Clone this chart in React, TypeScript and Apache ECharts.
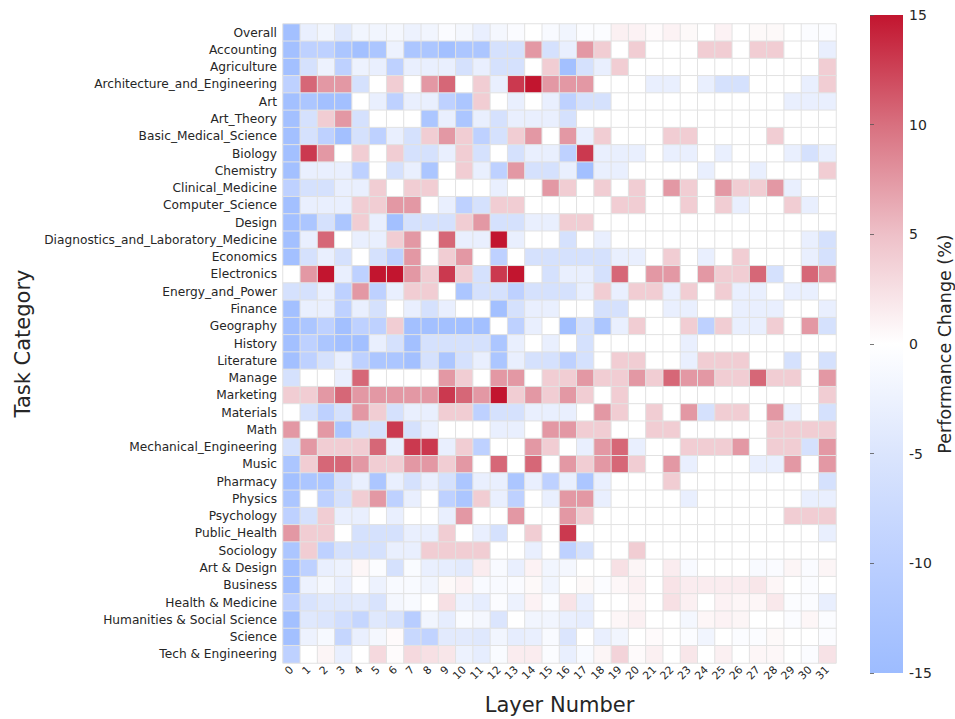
import React, { useEffect, useRef } from "react";
import * as echarts from "echarts";

const FONT = "DejaVu Sans";
const TEXT = "#262626";

const categories = [
  "Overall",
  "Accounting",
  "Agriculture",
  "Architecture_and_Engineering",
  "Art",
  "Art_Theory",
  "Basic_Medical_Science",
  "Biology",
  "Chemistry",
  "Clinical_Medicine",
  "Computer_Science",
  "Design",
  "Diagnostics_and_Laboratory_Medicine",
  "Economics",
  "Electronics",
  "Energy_and_Power",
  "Finance",
  "Geography",
  "History",
  "Literature",
  "Manage",
  "Marketing",
  "Materials",
  "Math",
  "Mechanical_Engineering",
  "Music",
  "Pharmacy",
  "Physics",
  "Psychology",
  "Public_Health",
  "Sociology",
  "Art & Design",
  "Business",
  "Health & Medicine",
  "Humanities & Social Science",
  "Science",
  "Tech & Engineering",
];

const layers = Array.from({ length: 32 }, (_, i) => String(i));

// Performance change (%) per category (rows) and layer (columns 0..31)
const performanceChange: number[][] = [
  [-14, -3, -2, -4.5, -2, -2, -1.5, -2.5, -2, -0.7, -1.5, -3, -1.5, -0.7, 0, -1, -2, -0.5, -0.5, 1.2, 1, 0.4, 1, 0.5, 0, 1, 0, 0.5, 0.5, 0, -0.5, -0.5],
  [-14, -9.5, -9.5, -12.5, -14, -12.5, -2.5, -12.5, -12.5, -14, -12.5, -12.5, -6, -6, 7.5, -6, -3, 7.5, 4, 0, 4, 0, 0, 0, 4, 4, 0, 4, 4, 0, 0, -3],
  [-14, -6, -2.5, -9.5, -2.5, -3, -9.5, -3, -3, -3, -6, -3, -6, -6, 0, 4, -14, -6, -3, 4, 0, 0, 0, 0, 0, 0, 0, 0, 0, 0, 0, 4],
  [-9.5, 10.5, 7.5, 7.5, -6, 0, 4, 0, 7.5, 10.5, 0, 4, -3, 13, 15, 7.5, 7.5, 7.5, 0, 0, 0, -3, -3, 0, -3, -6, -6, 0, 0, 0, -3, 4],
  [-14, -12.5, -14, -14, 0, -3, -9.5, -3, -3, -9.5, -12.5, 4, 0, -3, 0, -3, -9.5, -6, -6, 0, 0, 0, 0, 0, 0, 0, 0, 0, 0, -3, -3, -3],
  [-14, -6, 4, 7.5, -6, 0, 0, 0, -12.5, -3, -12.5, -3, -6, -3, -3, -3, -6, 0, 0, 0, 0, 0, 0, 0, 0, 0, 0, 0, 0, 0, 0, 0],
  [-14, -6, -9.5, -14, -6, -9.5, -3, -6, 4, 7.5, 4, -9.5, -6, 4, 7.5, 0, 7.5, -3, 4, 0, 0, 0, 4, 4, 0, 0, 0, 0, 4, 0, 0, 0],
  [-14, 13, 7.5, 0, 4, 0, 4, -6, -6, -3, 4, -6, 0, -6, -3, -3, -9.5, 13, -3, -3, -3, 0, -3, -3, 0, -3, 0, 0, 0, -3, -6, -3],
  [-14, -3, -3, -3, -9.5, 0, -6, -3, -12.5, 0, 4, -3, -9.5, 7.5, -6, -6, -3, -14, -3, -3, 0, 0, 0, 0, -3, 0, 0, -3, 0, 0, 0, 4],
  [-9.5, -6, -6, -3, -3, 4, 0, 4, 4, 0, 0, 0, -3, 0, 0, 7.5, 4, 0, 4, 0, 4, 0, 7.5, 4, 0, 7.5, 4, 4, 7.5, -3, 0, 0],
  [-14, -3, -3, -3, 4, 4, 7.5, 7.5, 0, -3, -9.5, -6, 4, 4, 0, 0, 0, 0, 0, 4, 4, 0, 0, 4, 0, 4, -3, 0, 0, 4, -3, 0],
  [-14, -12.5, -6, -12.5, 4, -3, -14, -6, -6, -6, 4, 7.5, -6, -6, -3, -3, 4, 4, 0, 0, 0, 0, 0, 0, 0, 0, 0, 0, 0, 0, 0, 0],
  [-14, -3, 10.5, 0, -3, -3, 4, 7.5, 0, 10.5, -3, -3, 15, -3, 0, 0, -6, 0, -3, 0, 0, 0, 0, 0, 0, 0, 0, 0, 0, 0, -3, -6],
  [-14, -6, -3, -6, 0, -6, -9.5, 7.5, 0, 4, 7.5, 0, -9.5, 0, -6, -6, -6, -6, -6, -3, -3, 0, 4, 0, -3, 0, 4, 0, 0, 0, -3, -6],
  [0, 7.5, 15, -3, -9.5, 15, 15, 7.5, 4, 13, 4, -6, 13, 15, 0, -6, -3, -3, -6, 10.5, 0, 7.5, 7.5, 0, 7.5, 4, 4, 10.5, -6, 0, 10.5, 7.5],
  [-6, -6, -3, -9.5, 7.5, -9.5, -3, 4, 4, 0, -12.5, -6, -6, -9.5, -6, -6, -6, -3, 4, -3, 4, 4, -3, 4, 0, 4, -3, -3, 0, -3, -3, 0],
  [-14, -3, -3, -9.5, -3, -6, 0, -3, -6, -3, 0, 0, -14, -6, -3, -3, 0, 0, -6, -6, 0, 0, -3, -3, 0, 0, -3, -3, -3, 0, 0, -3],
  [-14, -12.5, -9.5, -14, -9.5, -9.5, 4, -14, -14, -14, -14, -14, 0, -9.5, -3, 0, -14, -6, -12.5, -3, 4, 0, 0, 4, -9.5, 4, -3, -3, 4, 0, 7.5, -6],
  [-14, -9.5, -12.5, -14, -14, -3, -6, -14, -6, -6, -6, -6, -12.5, -3, 0, -3, 0, -6, 0, 0, 0, 0, 0, -3, 0, 0, 0, 0, 0, 0, 0, 0],
  [-14, -9.5, -6, -3, -9.5, -12.5, -12.5, -14, -6, -12.5, -6, -3, -12.5, -3, -6, -6, -9.5, -6, 0, 4, 4, 0, 0, -3, 4, 4, 4, 0, 0, -6, 0, -6],
  [-6, 0, 0, -3, 10.5, 0, 0, 0, 0, 7.5, 4, 0, 7.5, 7.5, 0, 4, 4, 7.5, 4, 4, 7.5, 4, 10.5, 7.5, 7.5, 4, 4, 10.5, 4, 4, 0, 7.5],
  [4, 4, 7.5, 10.5, 7.5, 7.5, 7.5, 7.5, 7.5, 13, 10.5, 7.5, 15, 4, 7.5, 4, 7.5, 4, 0, 4, 0, 0, 0, 0, 0, 0, 0, 0, 0, 0, 0, 4],
  [0, -6, -9.5, -6, 7.5, 4, -6, -3, -3, 4, 4, -9.5, -6, -6, -3, -3, -3, 0, 7.5, 4, 0, 4, 0, 7.5, -6, 4, 4, 0, 7.5, -3, 0, -6],
  [7.5, 0, 7.5, -12.5, -6, -6, 13, -6, -3, 0, 0, 0, -3, -3, 0, 7.5, 7.5, 4, 4, 0, 0, 4, 4, 0, 0, 0, 0, 0, 4, 4, 4, 4],
  [-6, 7.5, 4, 4, 4, 10.5, -3, 13, 13, -3, 4, -9.5, 0, 0, 7.5, 4, 0, -3, 7.5, 10.5, -3, 0, 0, 4, 4, 4, 7.5, 0, 4, 4, -6, 7.5],
  [-12.5, 4, 10.5, 10.5, 7.5, 4, 4, 7.5, 7.5, 4, 7.5, 0, 10.5, 0, 10.5, 0, 7.5, 4, 7.5, 10.5, 4, 0, 7.5, -3, 0, 0, 0, -3, -3, 7.5, 0, 7.5],
  [-14, -12.5, -12.5, -6, -3, -12.5, -3, -6, -3, -6, -12.5, -3, -3, -12.5, -3, -9.5, -3, -12.5, -3, 0, 0, 0, 4, 0, 0, 0, 0, 0, 0, 0, 0, -6],
  [-12.5, 0, -9.5, -6, 4, 7.5, -9.5, -3, 0, -9.5, -12.5, 4, -3, -9.5, 0, -3, 7.5, 7.5, -3, 0, 0, 0, 0, -3, 0, 0, 0, 0, 0, 0, -3, -3],
  [-9.5, -6, 4, -3, -3, 0, -3, 0, 0, -3, 7.5, 0, 0, 7.5, 0, 0, 7.5, 4, 0, 0, 0, 0, 0, 0, 0, 0, 0, 0, 0, 4, 4, 4],
  [7.5, 4, 4, 0, -6, -6, -6, -3, -3, 4, 0, -3, -6, 0, 4, 0, 13, 0, 0, 0, 0, 0, 0, 0, 0, 0, 0, 0, 0, 0, 0, -3],
  [-12.5, 4, -9.5, -6, -6, -6, -3, -3, 4, 4, 4, 4, 0, 0, -3, 0, -9.5, -6, 0, 0, 4, 0, 0, 0, 0, 0, 0, 0, 0, 0, 0, 0],
  [-14, -9.5, -3, -2.5, 0.7, -0.5, -6, -0.8, -3, -3.5, -4, 1.5, -1, -3, 1, -2, -1.5, 0, 0, 2.5, 0.8, 0, 1.5, -1, 0, 0, 0, -1, -0.7, 0.8, -0.7, 0.8],
  [-14, -2.5, -1.5, -3, -0.3, -2.5, -1, -1, -2, 0.5, 1, -1, -1, -0.7, 0.5, -2, 0, 0.5, -0.5, 0.6, 1.2, 0, 2.2, 1.5, 1.5, 1.5, 1.5, 2, 0.7, 0, -0.5, 0],
  [-9.5, -5.5, -4.5, -4.5, -4, -5.5, -1.5, -1, 0, 2.5, -2.5, -3.5, -0.5, -2.5, 1, -0.5, 2.2, -3, 0, 0, 0.7, 0, 2.5, 1.2, 0, 1, 0.7, 0.7, 1.8, -0.5, -0.5, -3],
  [-14, -4.5, -5, -6.5, -8.5, -4.5, -5.5, -10.5, -2, -3.5, -0.8, -1.5, -5, 0, -2, -2, -3, -3.5, 0, 0.7, 1.2, 0, 0, -1.5, 0.7, 1, 0.8, 0, 0, -0.5, 0.7, -0.5],
  [-14, -2.5, -1.2, -8.5, -3, -1.5, 0.4, -8, -9, -4, -4, -4.5, -2, -3.5, -3, -1, -5, 0, -3, -2, 0, 0.4, 0, -0.5, -2, 0, -0.5, -0.5, 0.5, 0, 0, -0.5],
  [-9.5, 0, 0.8, -3, 0, 3, 0.3, 3, 2.5, 2, -2.5, -3.5, -0.8, 1.5, 1.5, -0.5, -3, -1, 0.8, 3.5, 0.4, 1.2, 0, 2, 0, 1.2, 0, 0.7, 0.6, 0, -0.5, 2.3],
];

const colorTicks = [-15, 15];
const paletteStops = ["#9dbcff", "#bbcfff", "#dbe5fd", "#ffffff", "#eec0c8", "#d8707f", "#c2152f"];

// plot geometry (px)
const HM = { left: 283, top: 24, width: 553, height: 639 };
const CB = { left: 870, top: 15, width: 33, height: 658 };

export default function App() {
  const ref = useRef<HTMLDivElement>(null);

  useEffect(() => {
    document.body.style.margin = "0";
    if (!ref.current) return;
    const chart = echarts.init(ref.current, undefined, { renderer: "svg" });

    const cells: [number, number, number][] = [];
    performanceChange.forEach((row, r) =>
      row.forEach((v, c) => cells.push([c, r, v]))
    );

    // colorbar gradient runs from max (top) to min (bottom)
    const gradStops = paletteStops
      .slice()
      .reverse()
      .map((color, i) => ({ offset: i / (paletteStops.length - 1), color }));

    chart.setOption({
      animation: false,
      backgroundColor: "#ffffff",
      textStyle: { fontFamily: FONT, color: TEXT },
      grid: [
        { ...HM, containLabel: false, outerBoundsMode: "none" },
        { ...CB, containLabel: false, outerBoundsMode: "none" },
      ],
      xAxis: [
        {
          type: "category",
          gridIndex: 0,
          data: layers,
          axisLine: { show: false },
          axisTick: { show: false },
          splitArea: { show: false },
          axisLabel: {
            rotate: 45,
            interval: 0,
            fontSize: 10.8,
            color: TEXT,
            fontFamily: FONT,
            margin: 5,
          },
          name: "Layer Number",
          nameLocation: "middle",
          nameGap: 31,
          nameTextStyle: { fontSize: 21, color: TEXT, fontFamily: FONT },
        },
        {
          type: "value",
          gridIndex: 1,
          min: 0,
          max: 1,
          show: false,
        },
      ],
      yAxis: [
        {
          type: "category",
          gridIndex: 0,
          data: categories,
          inverse: true,
          axisLine: { show: false },
          axisTick: { show: false },
          splitArea: { show: false },
          axisLabel: {
            interval: 0,
            fontSize: 12.2,
            color: TEXT,
            fontFamily: FONT,
            margin: 6,
          },
          name: "Task Category",
          nameLocation: "middle",
          nameRotate: 90,
          nameGap: 250,
          nameTextStyle: { fontSize: 21, color: TEXT, fontFamily: FONT },
        },
        {
          type: "value",
          gridIndex: 1,
          min: colorTicks[0],
          max: colorTicks[1],
          interval: 5,
          position: "right",
          splitLine: { show: false },
          axisLine: { show: false },
          axisTick: {
            show: true,
            length: 4,
            lineStyle: { color: "#555555", width: 0.8 },
          },
          axisLabel: {
            fontSize: 14,
            color: TEXT,
            fontFamily: FONT,
            margin: 6,
          },
          name: "Performance Change (%)",
          nameLocation: "middle",
          nameRotate: 90,
          nameGap: 27,
          nameTextStyle: { fontSize: 17.5, color: TEXT, fontFamily: FONT },
        },
      ],
      visualMap: {
        type: "continuous",
        min: colorTicks[0],
        max: colorTicks[1],
        show: false,
        seriesIndex: 0,
        inRange: { color: paletteStops },
      },
      graphic: [
        {
          type: "rect",
          shape: { x: CB.left, y: CB.top, width: CB.width, height: CB.height },
          style: {
            fill: {
              type: "linear",
              x: 0,
              y: 0,
              x2: 0,
              y2: 1,
              colorStops: gradStops,
            },
          },
          z: -1,
        },
      ],
      series: [
        {
          type: "heatmap",
          xAxisIndex: 0,
          yAxisIndex: 0,
          data: cells,
          itemStyle: { borderColor: "#e2e2e2", borderWidth: 1 },
          emphasis: { disabled: true },
        },
        {
          type: "line",
          xAxisIndex: 1,
          yAxisIndex: 1,
          data: [],
          silent: true,
        },
      ],
    });

    return () => chart.dispose();
  }, []);

  return <div ref={ref} style={{ width: 955, height: 719 }} />;
}
